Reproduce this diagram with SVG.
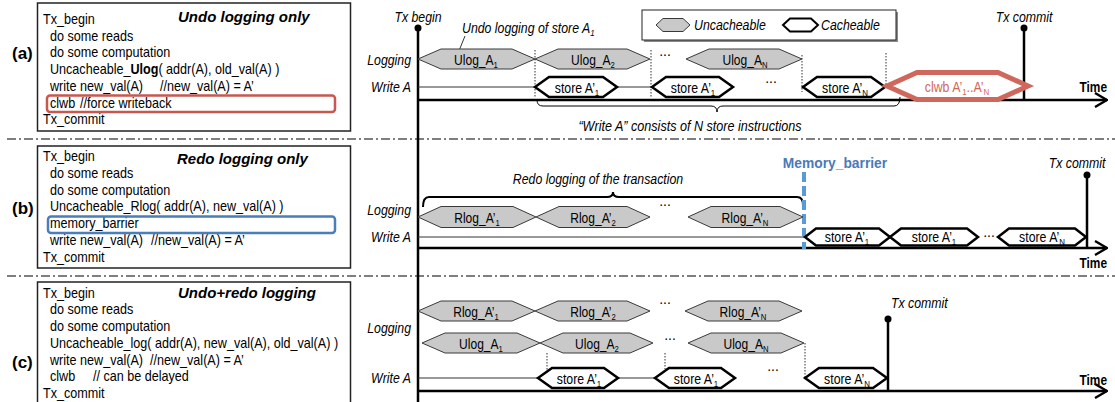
<svg xmlns="http://www.w3.org/2000/svg" width="1115" height="402" viewBox="0 0 1115 402">
  <style>
    text { font-family: "Liberation Sans", Arial, sans-serif; fill: #000; }
    .code { font-size: 14px; }
    .head { font-size: 15px; font-weight: bold; font-style: italic; }
    .tag { font-size: 17px; font-weight: bold; }
    .it { font-size: 14px; font-style: italic; }
    .hl { font-size: 14px; }
    .time { font-size: 14px; font-weight: bold; }
    .sub { font-size: 9px; }
    .box { fill: #fff; stroke: #222; stroke-width: 1.5; }
    .sep { stroke: #555; stroke-width: 1.5; stroke-dasharray: 9 3 2 3; fill: none; }
    .hexg { fill: #c9c9c9; stroke: #3a3a3a; stroke-width: 1; }
    .hexc { fill: #fff; stroke: #000; stroke-width: 2.5; }
    .axis { stroke: #000; stroke-width: 2.5; fill: none; }
    .thin { stroke: #333; stroke-width: 1; fill: none; }
    .dotl { stroke: #333; stroke-width: 1; stroke-dasharray: 1.5 1.5; fill: none; }
    .brace { stroke: #000; fill: none; }
  </style>
  <defs>
    <marker id="open" viewBox="0 0 14 16" refX="13" refY="8" markerWidth="14" markerHeight="16" markerUnits="userSpaceOnUse" orient="auto">
      <path d="M1,1 L13,8 L1,15" fill="none" stroke="#000" stroke-width="2.4"/>
    </marker>
  </defs>

  <rect width="1115" height="402" fill="#fff"/>

  <!-- section separators -->
  <line class="sep" x1="7" y1="139" x2="1115" y2="139"/>
  <line class="sep" x1="7" y1="276" x2="1115" y2="276"/>

  <!-- (a) code panel -->
  <g id="code-a">
    <rect class="box" x="37.5" y="3" width="313" height="128"/>
    <text class="tag" x="12" y="59">(a)</text>
    <text class="head" x="178" y="22">Undo logging only</text>
    <text class="code" transform="translate(43,24) scale(0.9,1)">Tx_begin</text>
    <text class="code" transform="translate(50,40.5) scale(0.9,1)">do some reads</text>
    <text class="code" transform="translate(50,57) scale(0.9,1)">do some computation</text>
    <text class="code" transform="translate(50,74) scale(0.9,1)">Uncacheable_<tspan font-weight="bold">Ulog</tspan>( addr(A), old_val(A) )</text>
    <text class="code" transform="translate(50,91) scale(0.9,1)">write new_val(A)</text>
    <text class="code" transform="translate(160,91) scale(0.9,1)">//new_val(A) = A’</text>
    <text class="code" transform="translate(50,107.5) scale(0.9,1)">clwb</text>
    <text class="code" transform="translate(80,107.5) scale(0.9,1)">//force writeback</text>
    <text class="code" transform="translate(43,124) scale(0.9,1)">Tx_commit</text>
    <rect x="47" y="95.5" width="288" height="16.5" rx="3" fill="none" stroke="#c8574f" stroke-width="2.5"/>
  </g>

  <!-- (b) code panel -->
  <g id="code-b">
    <rect class="box" x="37.5" y="146" width="313" height="122"/>
    <text class="tag" x="12" y="214">(b)</text>
    <text class="head" x="177" y="164">Redo logging only</text>
    <text class="code" transform="translate(43,160.5) scale(0.9,1)">Tx_begin</text>
    <text class="code" transform="translate(50,177.5) scale(0.9,1)">do some reads</text>
    <text class="code" transform="translate(50,194.5) scale(0.9,1)">do some computation</text>
    <text class="code" transform="translate(50,211) scale(0.9,1)">Uncacheable_Rlog( addr(A), new_val(A) )</text>
    <text class="code" transform="translate(50,228) scale(0.9,1)">memory_barrier</text>
    <text class="code" transform="translate(50,244.5) scale(0.9,1)">write new_val(A)</text>
    <text class="code" transform="translate(151,244.5) scale(0.9,1)">//new_val(A) = A’</text>
    <text class="code" transform="translate(43,261.5) scale(0.9,1)">Tx_commit</text>
    <rect x="48" y="216.5" width="287" height="16.5" rx="3" fill="none" stroke="#4a7ebb" stroke-width="2.5"/>
  </g>

  <!-- (c) code panel -->
  <g id="code-c">
    <rect class="box" x="37.5" y="282" width="313" height="130"/>
    <text class="tag" x="12" y="368">(c)</text>
    <text class="head" x="178" y="298">Undo+redo logging</text>
    <text class="code" transform="translate(43,298) scale(0.9,1)">Tx_begin</text>
    <text class="code" transform="translate(50,314) scale(0.9,1)">do some reads</text>
    <text class="code" transform="translate(50,331) scale(0.9,1)">do some computation</text>
    <text class="code" transform="translate(50,347.5) scale(0.9,1)">Uncacheable_log( addr(A), new_val(A), old_val(A) )</text>
    <text class="code" transform="translate(50,364.5) scale(0.9,1)">write new_val(A)</text>
    <text class="code" transform="translate(150,364.5) scale(0.9,1)">//new_val(A) = A’</text>
    <text class="code" transform="translate(50,381) scale(0.9,1)">clwb</text>
    <text class="code" transform="translate(93,381) scale(0.9,1)">// can be delayed</text>
    <text class="code" transform="translate(43,398) scale(0.9,1)">Tx_commit</text>
  </g>

  <!-- legend -->
  <g id="legend">
    <rect x="644" y="12" width="254" height="30" fill="#8a8a8a"/>
    <rect x="642" y="10" width="254" height="30" fill="#fff" stroke="#222" stroke-width="1"/>
    <polygon class="hexg" points="656,25 663,18.5 683,18.5 690,25 683,31.5 663,31.5"/>
    <text class="it" transform="translate(694,30) scale(0.88,1)">Uncacheable</text>
    <polygon points="783,25 790,18.5 811,18.5 818,25 811,31.5 790,31.5" fill="#fff" stroke="#000" stroke-width="2"/>
    <text class="it" transform="translate(821,30) scale(0.88,1)">Cacheable</text>
  </g>

  <!-- connectors: axes, write lines, guides, braces -->
  <g id="connectors">
    <line class="axis" x1="418" y1="28" x2="418" y2="404"/>
    <circle cx="418" cy="28" r="3.5" fill="#000"/>

    <!-- (a) -->
    <line class="axis" x1="418" y1="100" x2="1107" y2="100" marker-end="url(#open)"/>
    <line class="thin" x1="418" y1="87" x2="535" y2="87"/>
    <line class="thin" x1="617" y1="87" x2="652" y2="87"/>
    <line class="dotl" x1="535" y1="50" x2="535" y2="98"/>
    <line class="dotl" x1="651" y1="50" x2="651" y2="98"/>
    <line class="dotl" x1="802" y1="55" x2="802" y2="92"/>
    <line class="dotl" x1="886" y1="53" x2="886" y2="88"/>
    <line class="axis" x1="1024" y1="28" x2="1024" y2="100"/>
    <circle cx="1024" cy="28" r="3.5" fill="#000"/>
    <line class="thin" x1="465" y1="36" x2="454" y2="63"/>
    <path class="brace" stroke-width="1" d="M537,100 Q537,106 543,106 H711 Q717,106 717,112 Q717,106 723,106 H894 Q900,106 900,97"/>

    <!-- (b) -->
    <line class="axis" x1="418" y1="248" x2="1107" y2="248" marker-end="url(#open)"/>
    <line class="thin" x1="418" y1="237" x2="804" y2="237"/>
    <path class="brace" stroke-width="2" d="M423,207 Q423,197 429,197 H607 Q613,197 613,192 Q613,197 619,197 H797 Q803,197 803,205"/>
    <line x1="804" y1="172" x2="804" y2="249" stroke="#5b9bd5" stroke-width="4" stroke-dasharray="10 4"/>
    <line class="axis" x1="1087" y1="175" x2="1087" y2="248"/>
    <circle cx="1087" cy="175" r="3.5" fill="#000"/>

    <!-- (c) -->
    <line class="axis" x1="418" y1="391" x2="1107" y2="391" marker-end="url(#open)"/>
    <line class="thin" x1="418" y1="378" x2="538" y2="378"/>
    <line class="thin" x1="618" y1="378" x2="655" y2="378"/>
    <line class="dotl" x1="547" y1="353" x2="547" y2="373"/>
    <line class="dotl" x1="665" y1="353" x2="665" y2="369"/>
    <line class="dotl" x1="805" y1="343" x2="805" y2="378"/>
    <line class="axis" x1="888" y1="319" x2="888" y2="391"/>
    <circle cx="888" cy="319" r="3.5" fill="#000"/>
  </g>

  <!-- timeline labels -->
  <g id="labels">
    <text class="it" text-anchor="middle" transform="translate(418,22) scale(0.88,1)">Tx begin</text>
    <text class="it" transform="translate(462,33) scale(0.88,1)">Undo logging of store A<tspan class="sub" dy="3">1</tspan></text>
    <text class="it" text-anchor="middle" transform="translate(1024,22) scale(0.88,1)">Tx commit</text>
    <text class="it" text-anchor="end" transform="translate(411,65) scale(0.88,1)">Logging</text>
    <text class="it" text-anchor="end" transform="translate(411,92) scale(0.88,1)">Write A</text>
    <text class="time" text-anchor="end" transform="translate(1107,92) scale(0.85,1)">Time</text>
    <text class="it" text-anchor="middle" transform="translate(690,131) scale(0.9,1)">“Write A” consists of N store instructions</text>

    <text class="it" text-anchor="middle" transform="translate(598,184) scale(0.88,1)">Redo logging of the transaction</text>
    <text x="835" y="168" text-anchor="middle" font-size="13.8" font-weight="bold" style="fill:#4a7ab8">Memory_barrier</text>
    <text class="it" text-anchor="middle" transform="translate(1077,168) scale(0.88,1)">Tx commit</text>
    <text class="it" text-anchor="end" transform="translate(411,215) scale(0.88,1)">Logging</text>
    <text class="it" text-anchor="end" transform="translate(411,242) scale(0.88,1)">Write A</text>
    <text class="time" text-anchor="end" transform="translate(1107,268) scale(0.85,1)">Time</text>

    <text class="it" transform="translate(891,308) scale(0.88,1)">Tx commit</text>
    <text class="it" text-anchor="end" transform="translate(411,333) scale(0.88,1)">Logging</text>
    <text class="it" text-anchor="end" transform="translate(411,383) scale(0.88,1)">Write A</text>
    <text class="time" text-anchor="end" transform="translate(1107,385) scale(0.85,1)">Time</text>

    <text class="hl" text-anchor="middle" x="665" y="56">...</text>
    <text class="hl" text-anchor="middle" x="771" y="83">...</text>
    <text class="hl" text-anchor="middle" x="665" y="206">...</text>
    <text class="hl" text-anchor="middle" x="989" y="237">...</text>
    <text class="hl" text-anchor="middle" x="665" y="304">...</text>
    <text class="hl" text-anchor="middle" x="670" y="340">...</text>
    <text class="hl" text-anchor="middle" x="773" y="371">...</text>
  </g>

  <!-- (a) operations -->
  <g id="a-ulog1"><polygon class="hexg" points="418,59 441,49 512,49 535,59 512,69 441,69"/>
    <text class="hl" text-anchor="middle" transform="translate(476,65) scale(0.86,1)">Ulog_A<tspan class="sub" dy="3">1</tspan></text></g>
  <g id="a-ulog2"><polygon class="hexg" points="535,59 558,49 627,49 650,59 627,69 558,69"/>
    <text class="hl" text-anchor="middle" transform="translate(593,65) scale(0.86,1)">Ulog_A<tspan class="sub" dy="3">2</tspan></text></g>
  <g id="a-ulogN"><polygon class="hexg" points="686,59 709,49 779,49 802,59 779,69 709,69"/>
    <text class="hl" text-anchor="middle" transform="translate(745,65) scale(0.86,1)">Ulog_A<tspan class="sub" dy="3">N</tspan></text></g>
  <g id="a-store1"><polygon class="hexc" points="535,87 549,77 603,77 617,87 603,97 549,97"/>
    <text class="hl" text-anchor="middle" transform="translate(577,93) scale(0.88,1)">store A’<tspan class="sub" dy="3">1</tspan></text></g>
  <g id="a-store2"><polygon class="hexc" points="652,87 666,77 719,77 733,87 719,97 666,97"/>
    <text class="hl" text-anchor="middle" transform="translate(693,93) scale(0.88,1)">store A’<tspan class="sub" dy="3">1</tspan></text></g>
  <g id="a-storeN"><polygon class="hexc" points="803,87 817,77 871,77 885,87 871,97 817,97"/>
    <text class="hl" text-anchor="middle" transform="translate(845,93) scale(0.88,1)">store A’<tspan class="sub" dy="3">N</tspan></text></g>
  <g id="a-clwb"><polygon points="887,86 917,72.5 998,72.5 1028,86 998,99.5 917,99.5" fill="#fff" stroke="#d0675c" stroke-width="5" stroke-linejoin="miter"/>
    <text class="hl" text-anchor="middle" transform="translate(957,92) scale(0.88,1)" style="fill:#d0675c">clwb A’<tspan class="sub" dy="3">1</tspan><tspan dy="-3">..A’</tspan><tspan class="sub" dy="3">N</tspan></text></g>

  <!-- (b) operations -->
  <g id="b-rlog1"><polygon class="hexg" points="418,217 441,206.5 513,206.5 536,217 513,227.5 441,227.5"/>
    <text class="hl" text-anchor="middle" transform="translate(477,223) scale(0.86,1)">Rlog_A’<tspan class="sub" dy="3">1</tspan></text></g>
  <g id="b-rlog2"><polygon class="hexg" points="536,217 559,206.5 627,206.5 650,217 627,227.5 559,227.5"/>
    <text class="hl" text-anchor="middle" transform="translate(593,223) scale(0.86,1)">Rlog_A’<tspan class="sub" dy="3">2</tspan></text></g>
  <g id="b-rlogN"><polygon class="hexg" points="688,217 711,206.5 780,206.5 803,217 780,227.5 711,227.5"/>
    <text class="hl" text-anchor="middle" transform="translate(745,223) scale(0.86,1)">Rlog_A’<tspan class="sub" dy="3">N</tspan></text></g>
  <g id="b-store1"><polygon class="hexc" points="805,237 816,228.5 879,228.5 890,237 879,245.5 816,245.5"/>
    <text class="hl" text-anchor="middle" transform="translate(847,242) scale(0.88,1)">store A’<tspan class="sub" dy="3">1</tspan></text></g>
  <g id="b-store2"><polygon class="hexc" points="890,237 901,228.5 967,228.5 978,237 967,245.5 901,245.5"/>
    <text class="hl" text-anchor="middle" transform="translate(934,242) scale(0.88,1)">store A’<tspan class="sub" dy="3">1</tspan></text></g>
  <g id="b-storeN"><polygon class="hexc" points="998,237 1009,228.5 1075,228.5 1086,237 1075,245.5 1009,245.5"/>
    <text class="hl" text-anchor="middle" transform="translate(1042,242) scale(0.88,1)">store A’<tspan class="sub" dy="3">N</tspan></text></g>

  <!-- (c) operations -->
  <g id="c-rlog1"><polygon class="hexg" points="418,311 441,301 512,301 535,311 512,321 441,321"/>
    <text class="hl" text-anchor="middle" transform="translate(476,317) scale(0.86,1)">Rlog_A’<tspan class="sub" dy="3">1</tspan></text></g>
  <g id="c-rlog2"><polygon class="hexg" points="535,311 558,301 627,301 650,311 627,321 558,321"/>
    <text class="hl" text-anchor="middle" transform="translate(593,317) scale(0.86,1)">Rlog_A’<tspan class="sub" dy="3">2</tspan></text></g>
  <g id="c-rlogN"><polygon class="hexg" points="685,311 708,301 779,301 802,311 779,321 708,321"/>
    <text class="hl" text-anchor="middle" transform="translate(743,317) scale(0.86,1)">Rlog_A’<tspan class="sub" dy="3">N</tspan></text></g>
  <g id="c-ulog1"><polygon class="hexg" points="422,343 445,333 517,333 540,343 517,353 445,353"/>
    <text class="hl" text-anchor="middle" transform="translate(481,349) scale(0.86,1)">Ulog_A<tspan class="sub" dy="3">1</tspan></text></g>
  <g id="c-ulog2"><polygon class="hexg" points="540,343 563,333 630,333 653,343 630,353 563,353"/>
    <text class="hl" text-anchor="middle" transform="translate(597,349) scale(0.86,1)">Ulog_A<tspan class="sub" dy="3">2</tspan></text></g>
  <g id="c-ulogN"><polygon class="hexg" points="688,343 711,333 781,333 804,343 781,353 711,353"/>
    <text class="hl" text-anchor="middle" transform="translate(746,349) scale(0.86,1)">Ulog_A<tspan class="sub" dy="3">N</tspan></text></g>
  <g id="c-store1"><polygon class="hexc" points="538,378 552,368 604,368 618,378 604,388 552,388"/>
    <text class="hl" text-anchor="middle" transform="translate(579,384) scale(0.88,1)">store A’<tspan class="sub" dy="3">1</tspan></text></g>
  <g id="c-store2"><polygon class="hexc" points="655,378 669,368 721,368 735,378 721,388 669,388"/>
    <text class="hl" text-anchor="middle" transform="translate(696,384) scale(0.88,1)">store A’<tspan class="sub" dy="3">1</tspan></text></g>
  <g id="c-storeN"><polygon class="hexc" points="805,378 819,368 873,368 887,378 873,388 819,388"/>
    <text class="hl" text-anchor="middle" transform="translate(847,384) scale(0.88,1)">store A’<tspan class="sub" dy="3">N</tspan></text></g>
</svg>
